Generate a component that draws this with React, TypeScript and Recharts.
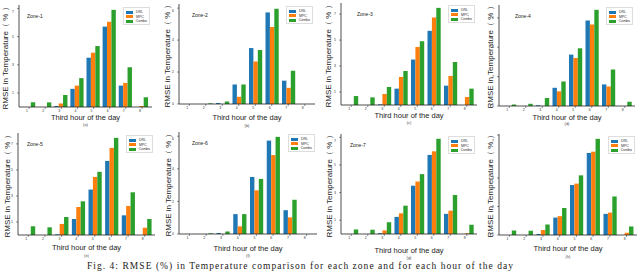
import React from "react";
import { BarChart, Bar, XAxis, YAxis } from "recharts";

const hours = [1, 2, 3, 4, 5, 6, 7, 8];
const seriesNames = ["DRL", "MPC", "Combo"];
const colors = ["#1f77b4", "#ff7f0e", "#2ca02c"];
const zoneNames = ["Zone-1", "Zone-2", "Zone-3", "Zone-4", "Zone-5", "Zone-6", "Zone-7", ""];
const subLabels = ["(a)", "(b)", "(c)", "(d)", "(e)", "(f)", "(g)", "(h)"];

const drl = [
  [0, 0, 0.07, 1.29, 3.5, 5.71, 1.52, 0],
  [0, 0, 0.06, 1.22, 3.5, 5.73, 1.46, 0],
  [0, 0, 0.05, 1.26, 3.5, 5.71, 1.49, 0],
  [0, 0, 0.05, 1.24, 3.5, 5.82, 1.47, 0],
  [0, 0, 0.05, 1.23, 3.49, 5.69, 1.51, 0],
  [0, 0, 0.06, 1.22, 3.5, 5.73, 1.46, 0],
  [0, 0, 0.06, 1.24, 3.5, 5.73, 1.46, 0],
  [0, 0, 0.07, 1.22, 3.5, 5.75, 1.48, 0],
];
const mpc = [
  [0, 0, 0.25, 1.52, 3.86, 6.05, 1.71, 0.07],
  [0, 0, 0, 0.45, 2.66, 4.82, 1.01, 0],
  [0, 0, 0.85, 2.16, 4.47, 6.74, 2.24, 0.62],
  [0, 0, 0, 1.0, 3.27, 5.55, 1.33, 0],
  [0, 0, 0.85, 2.15, 4.46, 6.69, 2.23, 0.56],
  [0, 0, 0, 0.47, 2.68, 4.84, 1.02, 0],
  [0, 0, 0.26, 1.5, 3.8, 5.99, 1.69, 0.05],
  [0, 0, 0.35, 1.32, 3.6, 5.84, 1.57, 0.16],
];
const combo = [
  [0.33, 0.33, 0.86, 2.05, 4.33, 6.9, 2.83, 0.69],
  [0, 0.04, 0.16, 1.22, 3.38, 5.96, 2.08, 0],
  [0.69, 0.59, 1.39, 2.62, 4.91, 7.48, 3.32, 1.26],
  [0.1, 0.15, 0.54, 1.67, 3.93, 6.55, 2.48, 0.29],
  [0.67, 0.59, 1.38, 2.59, 4.85, 7.46, 3.28, 1.23],
  [0, 0.04, 0.16, 1.22, 3.38, 5.96, 2.1, 0],
  [0.33, 0.31, 0.86, 2.05, 4.34, 6.9, 2.82, 0.67],
  [0.32, 0.3, 0.74, 1.89, 4.18, 6.74, 2.7, 0.6],
];

// plot boxes [left, top, right, bottom] and label positions
const boxes = [
  [19, 5, 152, 107],
  [179, 4, 315, 104],
  [341, 3, 477, 105],
  [499, 5, 635, 106],
  [18, 133, 155, 235],
  [179, 132, 317, 234],
  [341, 134, 477, 234],
  [499, 134, 637, 235],
];
const zoneOffsets = [8, 13, 16, 16, 9, 13, 9, 0];
const yLabelX = [5, 167, 328, 490, 7, 168, 329, 490];
const xLabelY = [117.5, 117.5, 115.5, 117.5, 247.5, 248.5, 250.5, 248.5];
const subLabelY = [125, 126, 123, 124, 256, 256, 258, 257];

const font = "'Liberation Sans', Arial, sans-serif";

const Legend = () => (
  <div
    style={{
      position: "absolute",
      right: 2,
      top: 2,
      width: 27,
      height: 18,
      border: "0.5px solid #ddd",
      background: "#fff",
      boxSizing: "border-box",
      padding: "2px 2px",
    }}
  >
    {seriesNames.map((n, i) => (
      <div key={n} style={{ display: "flex", alignItems: "center", height: 4.5 }}>
        <div style={{ width: 7, height: 3, background: colors[i], marginRight: 3 }} />
        <span style={{ fontSize: 3.5, fontFamily: font, color: "#333", lineHeight: "4px" }}>{n}</span>
      </div>
    ))}
  </div>
);

const XTick = ({ x, y, payload }: any) => (
  <text x={x - 2} y={y + 3.2} textAnchor="middle" fontSize={3.5} fontFamily={font} fill="#333">
    {payload.value}
  </text>
);
const YTick = ({ x, y, payload }: any) => (
  <text x={x - 1} y={y + 1.2} textAnchor="end" fontSize={3.5} fontFamily={font} fill="#333">
    {payload.value}
  </text>
);

const Panel = ({ idx }: { idx: number }) => {
  const [x0, y0, x1, y1] = boxes[idx];
  const data = hours.map((h, i) => ({
    hour: h,
    DRL: drl[idx][i],
    MPC: mpc[idx][i],
    Combo: combo[idx][i],
  }));
  const maxV = Math.max(...combo[idx], ...mpc[idx], ...drl[idx]) * 1.05;
  const ticks = Array.from({ length: Math.floor(maxV) + 1 }, (_, i) => i);
  const w = x1 - x0;
  const h = y1 - y0;
  return (
    <>
      <div style={{ position: "absolute", left: x0 - 16, top: y0 - 2 }}>
        <BarChart
          width={w + 20}
          height={h + 12}
          data={data}
          margin={{ top: 2, right: 4, left: 0, bottom: 0 }}
          barGap={0}
          barSize={4.4}
        >
          <XAxis
            dataKey="hour"
            height={10}
            tick={<XTick />}
            tickSize={2}
            tickMargin={0}
            axisLine={{ stroke: "#222", strokeWidth: 0.8 }}
            tickLine={{ stroke: "#222", strokeWidth: 0.5 }}
            padding={{ left: 2, right: 2 }}
            interval={0}
          />
          <XAxis
            xAxisId="top"
            orientation="top"
            dataKey="hour"
            height={0}
            tick={false}
            tickLine={false}
            axisLine={{ stroke: "#d8d8d8", strokeWidth: 0.8 }}
          />
          <YAxis
            width={16}
            domain={[0, maxV]}
            ticks={ticks}
            tick={<YTick />}
            tickSize={2}
            axisLine={{ stroke: "#222", strokeWidth: 0.8 }}
            tickLine={{ stroke: "#222", strokeWidth: 0.5 }}
            allowDataOverflow
          />
          <YAxis
            yAxisId="right"
            orientation="right"
            width={0}
            tick={false}
            tickLine={false}
            axisLine={{ stroke: "#999", strokeWidth: 1.5 }}
          />
          {seriesNames.map((s, i) => (
            <Bar key={s} dataKey={s} fill={colors[i]} isAnimationActive={false} />
          ))}
        </BarChart>
      </div>
      <div style={{ position: "absolute", left: x0, top: y0, width: w, height: h }}>
        <Legend />
        {zoneNames[idx] && (
          <div
            style={{
              position: "absolute",
              left: zoneOffsets[idx],
              top: 8,
              fontSize: 5,
              lineHeight: "6px",
              fontFamily: font,
              color: "#222",
            }}
          >
            {zoneNames[idx]}
          </div>
        )}
      </div>
      <div
        style={{
          position: "absolute",
          left: yLabelX[idx] - 54,
          top: y0 + h / 2 - 4.5,
          width: 108,
          height: 9,
          transform: "rotate(-90deg)",
          textAlign: "center",
          fontSize: 8,
          lineHeight: "9px",
          fontFamily: font,
          color: "#222",
          whiteSpace: "nowrap",
        }}
      >
        RMSE in Temperature（ % ）
      </div>
      <div
        style={{
          position: "absolute",
          left: x0,
          width: w,
          top: xLabelY[idx] - 3.5,
          textAlign: "center",
          fontSize: 7.5,
          lineHeight: "7px",
          fontFamily: font,
          color: "#222",
          whiteSpace: "nowrap",
        }}
      >
        Third hour of the day
      </div>
      <div
        style={{
          position: "absolute",
          left: x0,
          width: w,
          top: subLabelY[idx] - 2,
          textAlign: "center",
          fontSize: 4,
          lineHeight: "4px",
          fontFamily: font,
          color: "#444",
        }}
      >
        {subLabels[idx]}
      </div>
    </>
  );
};

export default function App() {
  return (
    <div
      style={{
        position: "absolute",
        left: 0,
        top: 0,
        width: 640,
        height: 273,
        background: "#fff",
        overflow: "hidden",
      }}
    >
      {boxes.map((_, i) => (
        <Panel key={i} idx={i} />
      ))}
      <svg style={{ position: "absolute", left: 0, top: 258 }} width={640} height={15}>
        <text
          x={87}
          y={11}
          fontSize={9.5}
          fontFamily="'Liberation Serif', 'Times New Roman', serif"
          fill="#222"
          textLength={426}
          lengthAdjust="spacing"
        >
          Fig. 4: RMSE (%) in Temperature comparison for each zone and for each hour of the day
        </text>
      </svg>
    </div>
  );
}
